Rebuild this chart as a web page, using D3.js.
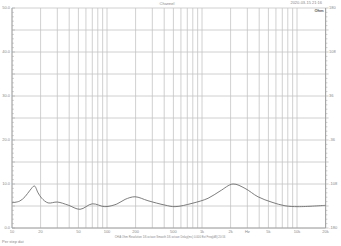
<!DOCTYPE html>
<html>
<head>
<meta charset="utf-8">
<script src="https://cdn.jsdelivr.net/npm/d3@7"></script>
<style>
  body { margin: 0; background: #fff; }
  text { font-family: "Liberation Sans", Arial, sans-serif; }
</style>
</head>
<body>
<svg id="chart"></svg>
<script>
// Measured curve (frequency in Hz, impedance in ohm)
const freqs = [10, 12, 13.7, 15.5, 17.2, 18.8, 20.5, 24, 30, 39, 52, 70, 95, 127, 155, 197, 270, 408, 520, 785, 1157, 1549, 2120, 2838, 3880, 5454, 7480, 10250, 20000];
const values = [5.75, 6.1, 7.1, 8.6, 9.55, 8.0, 6.8, 5.7, 5.9, 5.2, 4.25, 5.5, 4.85, 5.45, 6.5, 7.1, 6.2, 5.2, 4.85, 5.6, 6.75, 8.4, 10.0, 9.0, 7.1, 5.85, 5.05, 4.85, 5.15];

const xTickValues = [10, 20, 50, 100, 200, 500, 1000, 2000, 5000, 10000, 20000];
const xTickLabels = ["10", "20", "50", "100", "200", "500", "1k", "2k", "5k", "10k", "20k"];
const yLeftLabels = ["0.0", "10.0", "20.0", "30.0", "40.0", "50.0"];
const yRightLabels = ["-180", "-108", "-36", "36", "108", "180"];

const title = "Channel";
const stamp = "2020-03-15 21:16";
const unitLabel = "Ohm";
const caption = "CH A   Ohm   Resolution 1/6 octave   Smooth 1/6 octave   Delay(ms) 0.000   Ext Freq(dB) 20:16";
const footer = "Per step dat";

const width = 341, height = 246;
const margin = { top: 8, right: 16, bottom: 18, left: 12 };

const svg = d3.select("#chart")
              .attr("width", width)
              .attr("height", height);

const x = d3.scaleLog()
            .domain([10, 20000])
            .range([margin.left, 325.6]);

const y = d3.scaleLinear()
            .domain([0, 50])
            .range([height - margin.bottom, margin.top]);

const x0 = x.range()[0], x1 = x.range()[1];
const y0 = y.range()[0], y1 = y.range()[1];

// vertical grid: every integer multiple in each decade
const vGrid = [];
for (let dec = 10; dec < 20000; dec *= 10) {
    for (let m = 1; m <= 9; m++) {
        const f = dec * m;
        if (f <= 20000) vGrid.push(f);
    }
}
vGrid.push(20000);

svg.append("g")
   .selectAll("line")
   .data(vGrid)
   .join("line")
   .attr("x1", d => x(d)).attr("x2", d => x(d))
   .attr("y1", y1).attr("y2", y0)
   .attr("stroke", "#c4c4c4")
   .attr("stroke-width", 0.8);

// horizontal grid every 5 ohm
svg.append("g")
   .selectAll("line")
   .data(d3.range(0, 51, 5))
   .join("line")
   .attr("x1", x0).attr("x2", x1)
   .attr("y1", d => y(d)).attr("y2", d => y(d))
   .attr("stroke", "#c4c4c4")
   .attr("stroke-width", 0.8);

// axis frame lines
svg.append("line")
   .attr("x1", x0).attr("x2", x0).attr("y1", y1).attr("y2", y0)
   .attr("stroke", "#999").attr("stroke-width", 0.8);
svg.append("line")
   .attr("x1", x1).attr("x2", x1).attr("y1", y1).attr("y2", y0)
   .attr("stroke", "#999").attr("stroke-width", 0.8);
svg.append("line")
   .attr("x1", x0).attr("x2", x1).attr("y1", y0).attr("y2", y0)
   .attr("stroke", "#999").attr("stroke-width", 0.8);

// minor ticks on both vertical axes
const minor = d3.range(0, 51, 1);
svg.append("g")
   .selectAll("line")
   .data(minor)
   .join("line")
   .attr("x1", x0).attr("x2", d => x0 + (d % 5 === 0 ? 3 : 1.8))
   .attr("y1", d => y(d)).attr("y2", d => y(d))
   .attr("stroke", "#aaa").attr("stroke-width", 0.6);
svg.append("g")
   .selectAll("line")
   .data(minor)
   .join("line")
   .attr("x1", x1).attr("x2", d => x1 + (d % 5 === 0 ? 3 : 1.8))
   .attr("y1", d => y(d)).attr("y2", d => y(d))
   .attr("stroke", "#aaa").attr("stroke-width", 0.6);

// axis labels
const labelStyle = sel => sel.attr("font-size", 4).attr("fill", "#888");

svg.append("g")
   .selectAll("text")
   .data(yLeftLabels)
   .join("text")
   .attr("x", x0 - 2)
   .attr("y", (d, i) => y(i * 10) + 1.4)
   .attr("text-anchor", "end")
   .text(d => d)
   .call(labelStyle);

svg.append("g")
   .selectAll("text")
   .data(yRightLabels)
   .join("text")
   .attr("x", x1 + 3.5)
   .attr("y", (d, i) => y(i * 10) + 1.4)
   .attr("text-anchor", "start")
   .text(d => d)
   .call(labelStyle);

svg.append("g")
   .selectAll("text")
   .data(xTickValues)
   .join("text")
   .attr("x", d => x(d))
   .attr("y", y0 + 4.5)
   .attr("text-anchor", "middle")
   .text((d, i) => xTickLabels[i])
   .call(labelStyle);

svg.append("text")
   .attr("x", x(3000))
   .attr("y", y0 + 4.5)
   .attr("text-anchor", "middle")
   .text("Hz")
   .call(labelStyle);

// titles and notes
svg.append("text")
   .attr("x", 167).attr("y", 5)
   .attr("text-anchor", "middle")
   .text(title)
   .call(labelStyle);

svg.append("text")
   .attr("x", 322).attr("y", 4)
   .attr("text-anchor", "end")
   .text(stamp)
   .call(labelStyle);

svg.append("text")
   .attr("x", x1 - 2).attr("y", y1 + 4)
   .attr("text-anchor", "end")
   .attr("font-size", 4)
   .attr("font-weight", "bold")
   .attr("fill", "#555")
   .text(unitLabel);

svg.append("text")
   .attr("x", 170).attr("y", 237.5)
   .attr("text-anchor", "middle")
   .text(caption)
   .attr("font-size", 2.8).attr("fill", "#888");

svg.append("text")
   .attr("x", 2).attr("y", 243)
   .text(footer)
   .call(labelStyle);

// curve
const pts = freqs.map((f, i) => ({ f: f, v: values[i] }));
const line = d3.line()
               .x(d => x(d.f))
               .y(d => y(d.v))
               .curve(d3.curveCatmullRom.alpha(0.5));

svg.append("path")
   .datum(pts)
   .attr("fill", "none")
   .attr("stroke", "#6e6e6e")
   .attr("stroke-width", 0.9)
   .attr("d", line);
</script>
</body>
</html>
